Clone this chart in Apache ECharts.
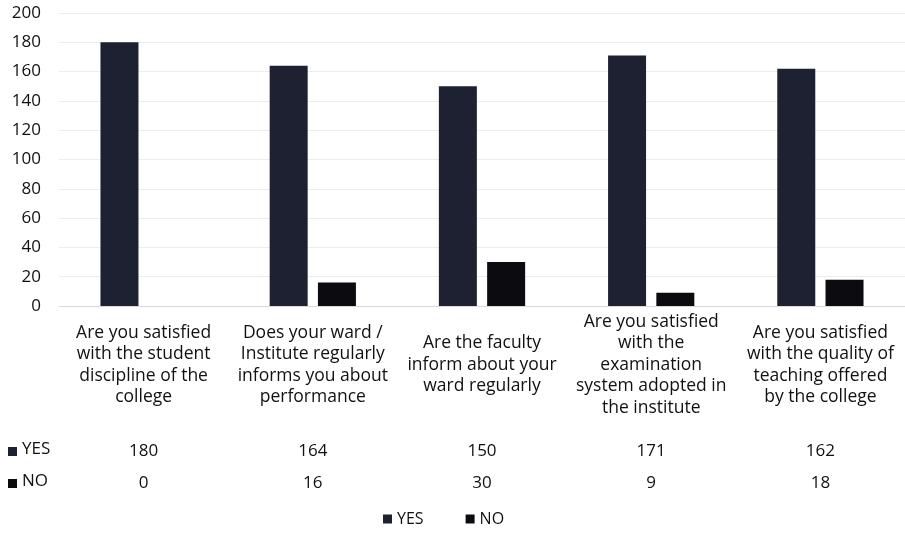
<!DOCTYPE html>
<html>
<head>
<meta charset="utf-8">
<script src="https://cdn.jsdelivr.net/npm/echarts@6/dist/echarts.min.js"></script>
<style>
  html, body { margin: 0; padding: 0; background: #fff; }
  #chart { width: 905px; height: 533px; }
</style>
</head>
<body>
<div id="chart"></div>
<script>
// Survey questions (category labels, pre-wrapped)
const questions = [
  'Are you satisfied\nwith the student\ndiscipline of the\ncollege',
  'Does your ward /\nInstitute regularly\ninforms you about\nperformance',
  'Are the faculty\ninform about your\nward regularly',
  'Are you satisfied\nwith the\nexamination\nsystem adopted in\nthe institute',
  'Are you satisfied\nwith the quality of\nteaching offered\nby the college'
];
const yesCounts = [180, 164, 150, 171, 162];
const noCounts = [0, 16, 30, 9, 18];
const seriesNames = ['YES', 'NO'];
const seriesColors = ['#1d2132', '#0c0c10'];

const FONT = '"Open Sans", Lato, sans-serif';
const TEXT = '#111111';
const chart = echarts.init(document.getElementById('chart'), null, { renderer: 'canvas' });

// Data-table rows under the axis: one hidden category axis per series
function tableAxis(values, margin) {
  return {
    type: 'category',
    gridIndex: 0,
    position: 'bottom',
    data: values.map(String),
    axisLine: { show: false },
    axisTick: { show: false },
    splitLine: { show: false },
    axisLabel: {
      interval: 0,
      margin: margin,
      verticalAlign: 'middle',
      color: TEXT,
      fontFamily: FONT,
      fontSize: 17
    }
  };
}

chart.setOption({
  animation: false,
  backgroundColor: '#ffffff',
  grid: { left: 59, right: -6, top: 13, bottom: 227, containLabel: false },
  legend: {
    data: seriesNames,
    bottom: 1,
    left: 378,
    icon: 'rect',
    itemWidth: 9,
    itemHeight: 9,
    itemGap: 42,
    textStyle: { fontFamily: FONT, fontSize: 16, color: TEXT }
  },
  xAxis: [
    {
      type: 'category',
      data: questions,
      axisLine: { show: true, lineStyle: { color: '#d9d9d9', width: 1 } },
      axisTick: { show: false },
      axisLabel: {
        interval: 0,
        margin: 59,
        verticalAlign: 'middle',
        align: 'center',
        lineHeight: 21.5,
        color: TEXT,
        fontFamily: FONT,
        fontSize: 17.5
      }
    },
    tableAxis(yesCounts, 145),
    tableAxis(noCounts, 177)
  ],
  yAxis: {
    type: 'value',
    min: 0,
    max: 200,
    interval: 20,
    axisLine: { show: false },
    axisTick: { show: false },
    splitLine: { lineStyle: { color: '#ececec', width: 1 } },
    axisLabel: {
      margin: 18,
      color: TEXT,
      fontFamily: FONT,
      fontSize: 17
    }
  },
  series: [
    {
      name: seriesNames[0],
      type: 'bar',
      data: yesCounts,
      barWidth: 38,
      barGap: '27%',
      itemStyle: { color: seriesColors[0] }
    },
    {
      name: seriesNames[1],
      type: 'bar',
      data: noCounts,
      barWidth: 38,
      itemStyle: { color: seriesColors[1] }
    }
  ],
  graphic: [
    { type: 'rect', left: 8, top: 447, shape: { width: 9, height: 9 }, style: { fill: seriesColors[0] } },
    { type: 'text', left: 22, top: 441, style: { text: seriesNames[0], font: '17px ' + FONT, fill: TEXT } },
    { type: 'rect', left: 8, top: 479, shape: { width: 9, height: 9 }, style: { fill: seriesColors[1] } },
    { type: 'text', left: 22, top: 473, style: { text: seriesNames[1], font: '17px ' + FONT, fill: TEXT } }
  ]
});
</script>
</body>
</html>
